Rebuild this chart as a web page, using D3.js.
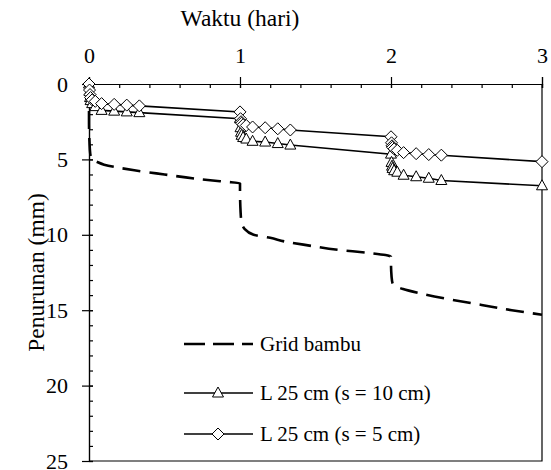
<!DOCTYPE html>
<html>
<head>
<meta charset="utf-8">
<script src="https://cdn.jsdelivr.net/npm/d3@7"></script>
<style>
  body { margin: 0; background: #fff; }
  text { font-family: "Liberation Serif", "Times New Roman", serif; fill: #000; }
</style>
</head>
<body>
<div id="chart"></div>
<script>
// Data (waktu in days, penurunan in mm)
var waktuUji = [0, 0.0035, 0.0069, 0.0104, 0.0208, 0.0417, 0.0833, 0.1667, 0.25, 0.3333,
  1, 1.0035, 1.0069, 1.0104, 1.0208, 1.0417, 1.0833, 1.1667, 1.25, 1.3333,
  2, 2.0035, 2.0069, 2.0104, 2.0208, 2.0417, 2.0833, 2.1667, 2.25, 2.3333,
  3];
var penurunanS10 = [0, 0.5, 0.9, 1.1, 1.3, 1.5, 1.75, 1.8, 1.85, 1.9,
  2.3, 2.9, 3.2, 3.4, 3.55, 3.65, 3.8, 3.85, 3.95, 4.05,
  4.65, 5.2, 5.45, 5.6, 5.75, 5.85, 6.05, 6.15, 6.25, 6.4,
  6.75];
var penurunanS5 = [0, 0.4, 0.7, 0.9, 1.05, 1.15, 1.3, 1.35, 1.4, 1.45,
  1.85, 2.3, 2.5, 2.6, 2.7, 2.75, 2.85, 2.9, 2.97, 3.05,
  3.5, 3.9, 4.1, 4.2, 4.3, 4.4, 4.55, 4.62, 4.68, 4.72,
  5.15];

var waktuGrid = [0, 0, 0.003, 0.008, 0.02, 0.05, 0.1, 0.3, 0.5, 0.7, 0.9, 1.0,
  1.0, 1.004, 1.01, 1.03, 1.09, 1.2, 1.3, 1.45, 1.65, 1.85, 2.0,
  2.0, 2.004, 2.01, 2.03, 2.08, 2.2, 2.4, 2.6, 2.8, 3.0];
var penurunanGrid = [0, 2.5, 3.8, 4.6, 5.0, 5.15, 5.35, 5.72, 6.0, 6.27, 6.48, 6.58,
  7.0, 8.5, 9.15, 9.6, 10.0, 10.2, 10.45, 10.7, 11.0, 11.2, 11.45,
  11.9, 12.8, 13.2, 13.4, 13.6, 13.9, 14.3, 14.65, 15.0, 15.3];

var xTicks = [0, 1, 2, 3];
var yTicks = [0, 5, 10, 15, 20, 25];
var legendLabels = ["Grid bambu", "L 25 cm (s = 10 cm)", "L 25 cm (s = 5 cm)"];

var width = 551, height = 470;
var plotLeft = 89, plotRight = 542, plotTop = 84, plotBottom = 461;

var svg = d3.select("#chart")
  .append("svg")
  .attr("width", width)
  .attr("height", height);

var x = d3.scaleLinear().domain([0, 3]).range([plotLeft, plotRight]);
var y = d3.scaleLinear().domain([0, 25]).range([plotTop, plotBottom]);

// frame (right + bottom)
svg.append("path")
  .attr("d", "M" + plotRight + "," + plotTop + "V" + plotBottom + "H" + plotLeft)
  .attr("fill", "none")
  .attr("stroke", "#000")
  .attr("stroke-width", 1.2);

// minor ticks, inward
svg.append("g")
  .attr("transform", "translate(0," + plotTop + ")")
  .call(d3.axisTop(x).tickValues(d3.range(0, 3.01, 0.2)).tickSize(-4).tickFormat(""));
svg.append("g")
  .attr("transform", "translate(" + plotLeft + ",0)")
  .call(d3.axisLeft(y).tickValues(d3.range(0, 26, 1)).tickSize(-4).tickFormat(""));

// major axes
var xAxis = svg.append("g")
  .attr("transform", "translate(0," + plotTop + ")")
  .call(d3.axisTop(x).tickValues(xTicks).tickSize(7).tickPadding(14).tickFormat(d3.format("d")));
xAxis.selectAll(".tick line").attr("y1", 4);

var yAxis = svg.append("g")
  .attr("transform", "translate(" + plotLeft + ",0)")
  .call(d3.axisLeft(y).tickValues(yTicks).tickSize(7).tickPadding(14).tickFormat(d3.format("d")));
yAxis.selectAll(".tick line").attr("x1", 4);

svg.selectAll(".domain").attr("stroke", "#000").attr("stroke-width", 1.2);
svg.selectAll(".tick line").attr("stroke", "#000").attr("stroke-width", 1.2);
svg.selectAll(".tick text")
  .style("font-family", '"Liberation Serif", "Times New Roman", serif')
  .style("font-size", "22px")
  .attr("fill", "#000");

// axis titles
svg.append("text")
  .attr("x", 240)
  .attr("y", 26)
  .attr("text-anchor", "middle")
  .style("font-size", "23.5px")
  .text("Waktu (hari)");

svg.append("text")
  .attr("transform", "translate(44," + ((plotTop + plotBottom) / 2) + ") rotate(-90)")
  .attr("text-anchor", "middle")
  .style("font-size", "23.5px")
  .text("Penurunan (mm)");

// series
var gridLine = d3.line()
  .x(function(d) { return x(d[0]); })
  .y(function(d) { return y(d[1]); })
  .curve(d3.curveMonotoneY);

svg.append("path")
  .datum(d3.zip(waktuGrid, penurunanGrid))
  .attr("d", gridLine)
  .attr("fill", "none")
  .attr("stroke", "#000")
  .attr("stroke-width", 2.6)
  .attr("stroke-dasharray", "18,9");

var seriesLine = d3.line()
  .x(function(d) { return x(d[0]); })
  .y(function(d) { return y(d[1]); });

var triangle = "M0,-6L5.5,4L-5.5,4Z";
var diamond = "M0,-6L6,0L0,6L-6,0Z";

function drawSeries(values, shape) {
  var pts = d3.zip(waktuUji, values);
  svg.append("path")
    .datum(pts)
    .attr("d", seriesLine)
    .attr("fill", "none")
    .attr("stroke", "#000")
    .attr("stroke-width", 1.6);
  svg.append("g").selectAll("path")
    .data(pts)
    .enter()
    .append("path")
    .attr("d", shape)
    .attr("transform", function(d) { return "translate(" + x(d[0]) + "," + y(d[1]) + ")"; })
    .attr("fill", "#fff")
    .attr("stroke", "#000")
    .attr("stroke-width", 1);
}
drawSeries(penurunanS10, triangle);
drawSeries(penurunanS5, diamond);

// legend
var legend = svg.append("g");
var rows = [344, 393, 434];
legendLabels.forEach(function(label, i) {
  var row = legend.append("g").attr("transform", "translate(0," + rows[i] + ")");
  var ln = row.append("line")
    .attr("x1", 184).attr("x2", 253)
    .attr("y1", 0).attr("y2", 0)
    .attr("stroke", "#000");
  if (i == 0) {
    ln.attr("stroke-width", 2.6).attr("stroke-dasharray", "21,8");
  } else {
    ln.attr("stroke-width", 1.6);
    row.append("path")
      .attr("d", i == 1 ? triangle : diamond)
      .attr("transform", "translate(218,0)")
      .attr("fill", "#fff")
      .attr("stroke", "#000");
  }
  row.append("text")
    .attr("x", 260)
    .attr("y", 7)
    .style("font-size", "21px")
    .text(label);
});
</script>
</body>
</html>
